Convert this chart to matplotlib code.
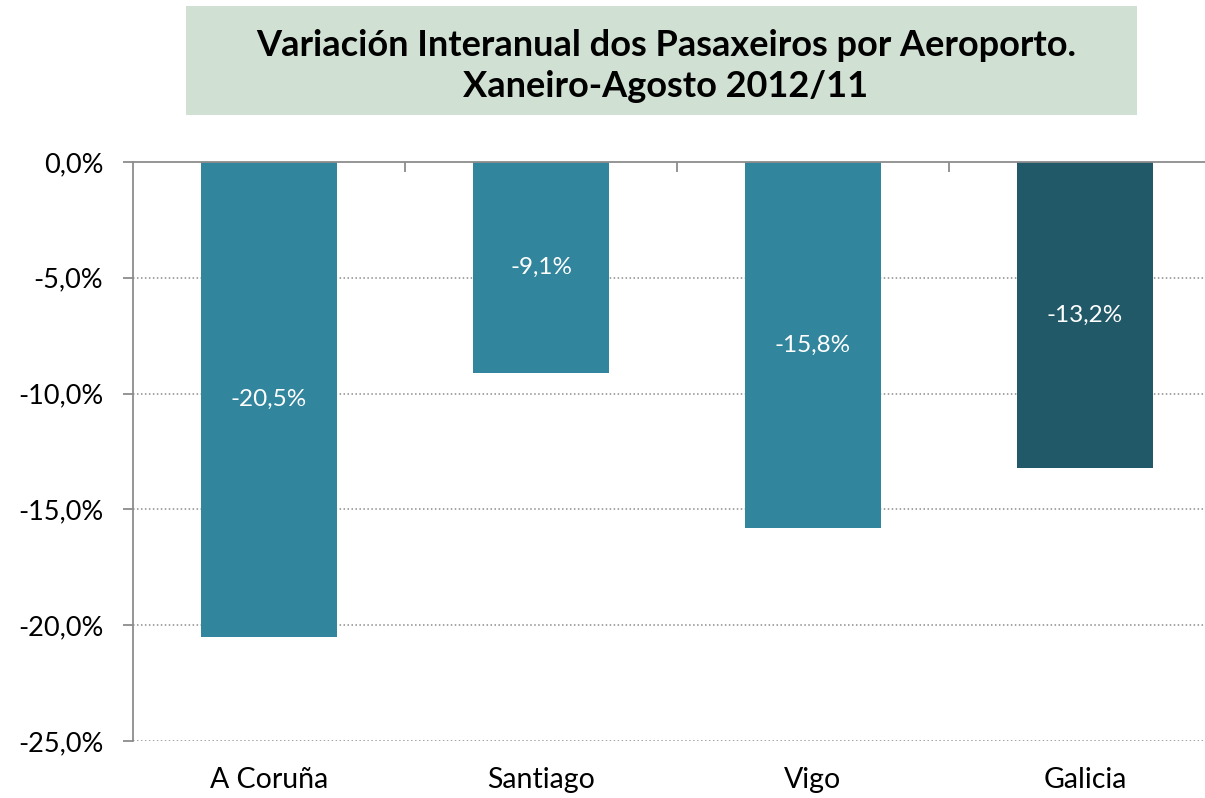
import matplotlib.pyplot as plt
from matplotlib.patches import Rectangle
from matplotlib.ticker import FuncFormatter

# data
airports = ["A Coruña", "Santiago", "Vigo", "Galicia"]
variation = [-20.5, -9.1, -15.8, -13.2]
bar_colors = ["#31859C", "#31859C", "#31859C", "#215968"]
y_ticks = [0, -5, -10, -15, -20, -25]

plt.rcParams["font.family"] = ["Lato", "DejaVu Sans"]

W, H = 1205, 798
fig = plt.figure(figsize=(W / 100, H / 100), dpi=100)

# axes placed in pixel terms
left, right, top, bottom = 133, 1205, 162, 741
ax = fig.add_axes([left / W, 1 - bottom / H, (right - left) / W, (bottom - top) / H])

x = list(range(len(airports)))
ax.bar(x, variation, width=0.5, color=bar_colors, zorder=3)
for xi, v in zip(x, variation):
    ax.text(xi, v / 2, f"{v:.1f}%".replace(".", ","), ha="center", va="center",
            color="white", fontsize=17.5, zorder=4)

ax.set_xlim(-0.5, 3.5 - 16 / 272)
ax.set_ylim(-25, 0)

# gridlines
grid_col = "#8C8C8C"
for t in y_ticks[1:]:
    ax.axhline(t, color=grid_col, lw=1.1, linestyle=(0, (1, 1.6)), zorder=1)

ax.set_yticks(y_ticks)
ax.yaxis.set_major_formatter(FuncFormatter(lambda v, p: f"{v:.1f}%".replace(".", ",")))
ax.tick_params(axis="y", length=7.5, width=1.3, color=grid_col, pad=14, labelsize=19.5)

ax.set_xticks(x)
ax.set_xticklabels(airports)
ax.tick_params(axis="x", length=0, pad=19, labelsize=20.5)

for s in ["right", "bottom"]:
    ax.spines[s].set_visible(False)
for s in ["left", "top"]:
    ax.spines[s].set_color(grid_col)
    ax.spines[s].set_linewidth(1.3)
    ax.spines[s].set_zorder(5)

# category boundary ticks on the zero line
sec = ax.secondary_xaxis("top")
sec.set_xticks([0.5, 1.5, 2.5])
sec.set_xticklabels([])
sec.tick_params(direction="in", length=7.5, width=1.3, color=grid_col)
sec.spines["top"].set_visible(False)

# title box
fig.patches.append(Rectangle((186 / W, 1 - 115 / H), (1137 - 186) / W, 109 / H,
                             transform=fig.transFigure, facecolor="#D0E0D2",
                             edgecolor="none", zorder=0))
fig.text(666 / W, 1 - 66 / H,
         "Variación Interanual dos Pasaxeiros por Aeroporto.\nXaneiro-Agosto 2012/11",
         ha="center", va="center", fontsize=26, fontweight="bold",
         linespacing=1.32)

fig.savefig("out.png", dpi=100)
